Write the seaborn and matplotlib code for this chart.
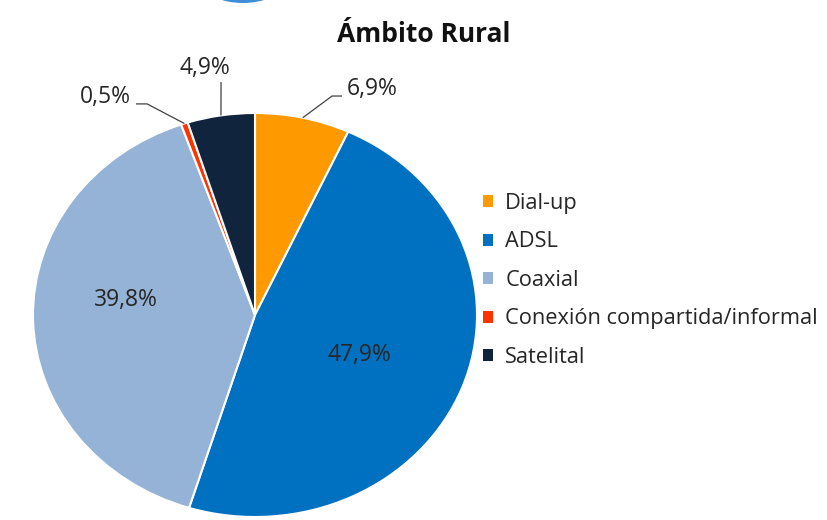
import numpy as np
import matplotlib
matplotlib.use("Agg")
import matplotlib.pyplot as plt
from matplotlib.patches import Patch, Ellipse
import seaborn as sns

# Rural connection types (share of households, %)
categories = ["Dial-up", "ADSL", "Coaxial", "Conexión compartida/informal", "Satelital"]
shares = [6.9, 47.9, 39.8, 0.5, 4.9]
colors = ["#FF9900", "#0070C0", "#95B3D7", "#FF3300", "#10243E"]
title_text = "Ámbito Rural"

sns.set_theme(style="white")
plt.rcParams["font.family"] = ["Open Sans", "DejaVu Sans"]

W, H = 827, 520
fig = plt.figure(figsize=(W / 100, H / 100), dpi=100)
ax = fig.add_axes([0, 0, 1, 1])

# pie centre and radii in pixels (slightly wider than tall)
cx, cy, rx, ry = 255, 315, 222, 202

palette = sns.color_palette(colors)
wedges, _ = ax.pie(
    shares, colors=palette, startangle=90, counterclock=False,
    wedgeprops=dict(edgecolor="white", linewidth=1.5),
)
ax.set_aspect("auto")
ax.set_xlim(-cx / rx, (W - cx) / rx)
ax.set_ylim((cy - H) / ry, cy / ry)
ax.axis("off")


def fmt(v):
    return f"{v:.1f}%".replace(".", ",")


def edge_point(w):
    ang = np.deg2rad((w.theta1 + w.theta2) / 2)
    return np.cos(ang), np.sin(ang)


label_color = "#262626"
label_size = 16.5

# label placement: inside labels use a text anchor, outside ones a leader path
inside_pos = {"ADSL": (0.468, -0.198), "Coaxial": (-0.581, 0.074)}
outside = {
    "Dial-up": ([(0.347, 1.084), (0.392, 1.084)], (0.414, 1.119), "left"),
    "Satelital": ([(-0.153, 1.153)], (-0.227, 1.223), "center"),
    "Conexión compartida/informal": ([(-0.486, 1.045), (-0.536, 1.045)], (-0.559, 1.079), "right"),
}

for name, val, w in zip(categories, shares, wedges):
    if name in inside_pos:
        x, y = inside_pos[name]
        ax.text(x, y, fmt(val), ha="center", va="center",
                fontsize=label_size, color=label_color)
    else:
        pts, (tx, ty), ha = outside[name]
        ex, ey = edge_point(w)
        xs = [ex] + [p[0] for p in pts]
        ys = [ey] + [p[1] for p in pts]
        ax.plot(xs, ys, color="#404040", lw=0.9, solid_capstyle="butt")
        ax.text(tx, ty, fmt(val), ha=ha, va="center",
                fontsize=label_size, color=label_color)

fig.text(424 / W, 1 - 34 / H, title_text, ha="center", va="center",
         fontsize=19, fontweight="bold", color="#111111")

handles = [Patch(facecolor=c, edgecolor="none") for c in palette]
fig.legend(
    handles, categories, loc="upper left",
    bbox_to_anchor=(483 / W, 1 - 193 / H), frameon=False,
    fontsize=15.7, handlelength=0.46, handleheight=0.46,
    handletextpad=0.56, labelspacing=0.8, borderpad=0, borderaxespad=0,
    labelcolor="#262626",
)

# edge of the element sitting above the chart
fig.add_artist(Ellipse((243 / W, 1 + 17 / H), 80 / W, 40 / H,
                       transform=fig.transFigure, facecolor="#3F8ED8",
                       edgecolor="none", clip_on=False))

fig.savefig("out.png", dpi=100)
